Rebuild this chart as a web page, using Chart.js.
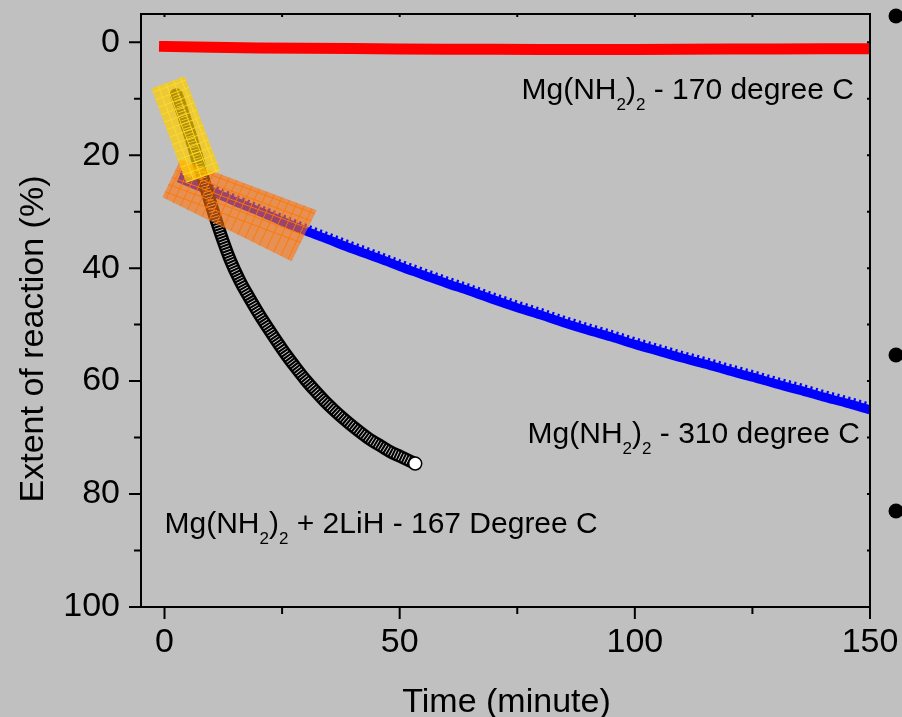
<!DOCTYPE html>
<html><head><meta charset="utf-8">
<script src="https://cdn.jsdelivr.net/npm/chart.js@4/dist/chart.umd.min.js"></script>
<style>html,body{margin:0;padding:0;background:#c0c0c0;}canvas{display:block}</style>
</head><body>
<canvas id="c" width="902" height="717"></canvas>
<script>
// ---- data ----
const redTime   = [0,10,20,30,40,50,60,70,80,90,100,110,120,130,140,150];
const redExtent = [0.75,0.9,1.0,1.05,1.1,1.2,1.25,1.25,1.3,1.3,1.3,1.25,1.2,1.2,1.15,1.15];

const blueTime   = [3,5,10,15,20,25,30,35,40,45,50,55,60,65,70,75,80,85,90,95,100,105,110,115,120,125,130,135,140,145,150];
const blueExtent = [24.0,24.7,26.4,28.2,29.9,31.7,33.4,35.0,36.6,38.1,39.7,41.2,42.7,44.1,45.6,47.0,48.3,49.7,51.0,52.2,53.5,54.7,55.9,57.0,58.2,59.3,60.5,61.6,62.8,63.9,65.1];

const blackTime   = [2.5,3,4,5,6,7,8,9,10,11,12,14,16,18,20,22,24,26,28,30,32,34,36,38,40,42,44,46,48,50,52,53.3];
const blackExtent = [9.3,10.4,12.8,15.3,17.9,20.7,23.5,26.3,29.0,31.6,34.1,38.6,42.2,45.2,48.0,50.6,53.1,55.5,57.7,59.8,61.7,63.5,65.1,66.6,68.0,69.3,70.5,71.5,72.5,73.3,74.1,74.6];

const xTicks = [0,50,100,150];
const xMinorTicks = [25,75,125];
const yTicks = [0,20,40,60,80,100];
const yMinorTicks = [10,30,50,70,90];

const xTitle = 'Time (minute)';
const yTitle = 'Extent of reaction (%)';

const notes = [
  {x:75.9, y:10.1, parts:[{t:'Mg(NH'},{t:'2',sub:1},{t:')'},{t:'2',sub:1},{t:' - 170 degree C'}]},
  {x:77.2, y:71.0, parts:[{t:'Mg(NH'},{t:'2',sub:1},{t:')'},{t:'2',sub:1},{t:' - 310 degree C'}]},
  {x:0.0,  y:86.9, parts:[{t:'Mg(NH'},{t:'2',sub:1},{t:')'},{t:'2',sub:1},{t:' + 2LiH - 167 Degree C'}]}
];
// highlight boxes (corners in data units)
const yellowBox = [[-2.77,8.19],[4.26,6.02],[11.85,22.78],[4.62,24.9]];
const orangeBox = [[-0.43,27.43],[3.40,20.71],[32.34,29.73],[27.02,38.76]];

const FONT = '"Liberation Sans", Arial, sans-serif';
const pts = (xs, ys) => xs.map((x,i)=>({x:x, y:ys[i]}));

function drawBox(chart, box, fill, hatch){
  const ctx = chart.ctx, xs = chart.scales.x, ys = chart.scales.y;
  const p = box.map(c=>[xs.getPixelForValue(c[0]), ys.getPixelForValue(c[1])]);
  ctx.save();
  ctx.beginPath();
  p.forEach((q,i)=> i?ctx.lineTo(q[0],q[1]):ctx.moveTo(q[0],q[1]));
  ctx.closePath();
  ctx.fillStyle = fill; ctx.fill();
  ctx.clip();
  ctx.strokeStyle = hatch; ctx.lineWidth = 1;
  const edges = [[p[0],p[1],p[3]],[p[1],p[2],p[0]]];
  for (const [a,b,c] of edges){
    const dx=b[0]-a[0], dy=b[1]-a[1], L=Math.hypot(dx,dy);
    const ux=dx/L, uy=dy/L;
    const ex=c[0]-a[0], ey=c[1]-a[1], M=Math.hypot(ex,ey);
    const vx=ex/M, vy=ey/M;
    for(let s=4; s<M; s+=8){
      ctx.beginPath();
      ctx.moveTo(a[0]+vx*s-ux*20, a[1]+vy*s-uy*20);
      ctx.lineTo(a[0]+vx*s+ux*(L+20), a[1]+vy*s+uy*(L+20));
      ctx.stroke();
    }
  }
  ctx.restore();
}

function richText(ctx, x, y, parts){
  let cx = x;
  for (const p of parts){
    ctx.font = (p.sub ? '17px ' : '30px ') + FONT;
    ctx.fillText(p.t, cx, p.sub ? y+11 : y);
    cx += ctx.measureText(p.t).width;
  }
}

const deco = {
  id:'deco',
  beforeDraw(chart){
    const ctx=chart.ctx; ctx.save(); ctx.fillStyle='#c0c0c0';
    ctx.fillRect(0,0,chart.width,chart.height); ctx.restore();
  },
  afterDatasetDraw(chart, args){
    // serrated top edge of the dense triangle markers (blue series)
    if (chart.data.datasets[args.index].label !== 'Mg(NH2)2 - 310') return;
    const ctx=chart.ctx, a=chart.chartArea, pts=args.meta.data;
    ctx.save();
    ctx.beginPath(); ctx.rect(a.left,a.top,a.right-a.left,a.bottom-a.top); ctx.clip();
    ctx.translate(0,-5.5);
    ctx.strokeStyle='#0000ff'; ctx.lineWidth=3.5; ctx.setLineDash([2.2,3.4]);
    ctx.beginPath();
    pts.forEach((p,i)=> i?ctx.lineTo(p.x,p.y):ctx.moveTo(p.x+2,p.y));
    ctx.stroke();
    ctx.restore();
  },
  afterDatasetsDraw(chart){
    drawBox(chart, orangeBox, 'rgba(255,112,12,0.6)', 'rgba(255,120,0,0.9)');
    drawBox(chart, yellowBox, 'rgba(255,205,0,0.7)', 'rgba(255,220,40,0.9)');
  },
  afterDraw(chart){
    const ctx=chart.ctx, a=chart.chartArea, xs=chart.scales.x, ys=chart.scales.y;
    ctx.save();
    ctx.strokeStyle='#000'; ctx.lineWidth=2;
    ctx.strokeRect(a.left, a.top, a.right-a.left, a.bottom-a.top);
    ctx.beginPath();
    const tick=(x1,y1,x2,y2)=>{ctx.moveTo(x1,y1);ctx.lineTo(x2,y2);};
    yTicks.forEach(v=>{const y=ys.getPixelForValue(v); tick(a.left-12,y,a.left,y); tick(a.right-3,y,a.right,y);});
    yMinorTicks.forEach(v=>{const y=ys.getPixelForValue(v); tick(a.left-7,y,a.left,y); tick(a.right-3,y,a.right,y);});
    xTicks.forEach(v=>{const x=xs.getPixelForValue(v); tick(x,a.bottom,x,a.bottom+12); tick(x,a.top,x,a.top+3);});
    xMinorTicks.forEach(v=>{const x=xs.getPixelForValue(v); tick(x,a.bottom,x,a.bottom+7); tick(x,a.top,x,a.top+3);});
    ctx.stroke();
    // notes
    ctx.fillStyle='#000'; ctx.textBaseline='alphabetic'; ctx.textAlign='left';
    notes.forEach(n=>richText(ctx, xs.getPixelForValue(n.x), ys.getPixelForValue(n.y), n.parts));
    // axis titles
    ctx.font='34px '+FONT; ctx.textAlign='center';
    ctx.fillText(xTitle, (a.left+a.right)/2 + 1, 712);
    ctx.save(); ctx.translate(42.5, 339); ctx.rotate(-Math.PI/2);
    ctx.fillText(yTitle, 0, 0); ctx.restore();
    // slide bullets at right edge
    [16,355,511].forEach(y=>{ctx.beginPath(); ctx.arc(896,y,7.5,0,Math.PI*2); ctx.fill();});
    ctx.restore();
  }
};

const blackPts = pts(blackTime, blackExtent);
new Chart(document.getElementById('c'), {
  type:'line',
  data:{ datasets:[
    {label:'end', data:[blackPts[blackPts.length-1]], showLine:false, pointRadius:6.5, pointBackgroundColor:'#fff', pointBorderColor:'#000', pointBorderWidth:1.5, order:0},
    {label:'black inner', data:blackPts, borderColor:'#d8d8d8', borderWidth:8, borderDash:[0.8,2.1], pointRadius:0, cubicInterpolationMode:'monotone', borderCapStyle:'butt', order:1},
    {label:'Mg(NH2)2 + 2LiH - 167', data:blackPts, borderColor:'#000', borderWidth:13, pointRadius:0, cubicInterpolationMode:'monotone', borderCapStyle:'round', order:2},
    {label:'Mg(NH2)2 - 310', data:pts(blueTime, blueExtent), borderColor:'#0000ff', borderWidth:9, pointRadius:0, cubicInterpolationMode:'monotone', borderCapStyle:'butt', order:3},
    {label:'Mg(NH2)2 - 170', data:pts(redTime, redExtent), borderColor:'#ff0000', borderWidth:11, pointRadius:0, borderCapStyle:'square', order:4}
  ]},
  options:{
    responsive:false, animation:false, devicePixelRatio:1,
    layout:{padding:{top:14, right:32, left:0, bottom:0}},
    plugins:{legend:{display:false}, tooltip:{enabled:false}},
    scales:{
      x:{type:'linear', min:-5, max:150,
        afterBuildTicks:s=>{s.ticks=xTicks.map(v=>({value:v}));},
        afterFit:s=>{s.height=110; s.paddingLeft=0; s.paddingRight=0;},
        grid:{display:false, drawTicks:false}, border:{display:false},
        ticks:{autoSkip:false, maxRotation:0, color:'#000', padding:15, font:{family:FONT, size:34}}},
      y:{type:'linear', reverse:true, min:-5, max:100,
        afterBuildTicks:s=>{s.ticks=yTicks.map(v=>({value:v}));},
        afterFit:s=>{s.width=141; s.paddingTop=0; s.paddingBottom=0;},
        grid:{display:false, drawTicks:false}, border:{display:false},
        ticks:{autoSkip:false, color:'#000', padding:21, font:{family:FONT, size:34}}}
    }
  },
  plugins:[deco]
});
</script>
</body></html>
